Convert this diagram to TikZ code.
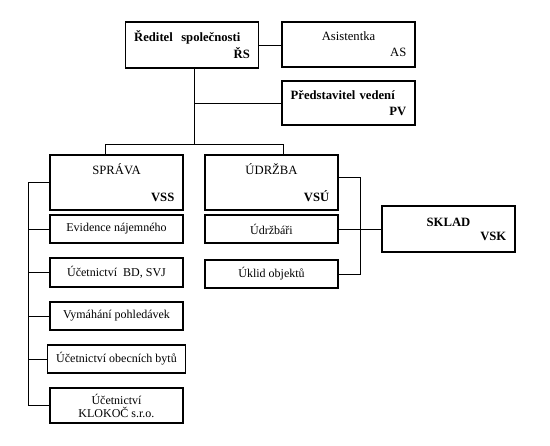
\documentclass[tikz,border=0pt]{standalone}
\usepackage{fontspec}
\setmainfont{Liberation Serif}
\usetikzlibrary{calc}
\tikzset{
  box/.style={draw, line width=0.95pt, minimum width=99.75pt, inner xsep=6.5pt, inner ysep=0pt,
    font=\fontsize{9}{11}\selectfont, align=center},
  hbox/.style={box, text width=86.75pt, font=\fontsize{9.5}{11}\selectfont},
  conn/.style={line width=0.75pt},
}
\begin{document}
\begin{tikzpicture}[x=0.75pt,y=-0.75pt]
\useasboundingbox[fill=white] (0,0) rectangle (550,446);
% top level
\node[hbox, align=left, minimum height=34.5pt] (RS) at (192,45)
  {\textbf{Ředitel\ \ společnosti}\\[1.75pt]\hspace*{\fill}\textbf{ŘS}};
\node[hbox, minimum height=33.75pt] (AS) at (348.5,44.5)
  {Asistentka\\[1.25pt]\hspace*{\fill}AS};
\node[hbox, align=left, minimum height=33pt] (PV) at (348.5,103)
  {\textbf{Představitel vedení}\\[1pt]\hspace*{\fill}\textbf{PV}};
% departments
\node[hbox, minimum height=41.25pt] (SPR) at (116.5,182.5)
  {SPRÁVA\\[9.25pt]\hspace*{\fill}\textbf{VSS}};
\node[hbox, minimum height=41.25pt] (UDR) at (271.5,182.5)
  {ÚDRŽBA\\[9.25pt]\hspace*{\fill}\textbf{VSÚ}};
\node[hbox, minimum height=34.5pt] (SKL) at (448.5,229)
  {\textbf{SKLAD}\\[-0.5pt]\hspace*{\fill}\textbf{VSK}};
% sub units
\node[box, minimum height=21pt] (EVI) at (116.5,229) {Evidence nájemného};
\node[box, minimum height=21.75pt] (UBD) at (116.5,272.5) {Účetnictví\ \ BD, SVJ};
\node[box, minimum height=21pt] (VYM) at (116.5,316) {Vymáhání pohledávek};
\node[box, minimum height=21pt] (UOB) at (116.5,359) {Účetnictví obecních bytů};
\node[box, minimum height=26.25pt] (KLO) at (116.5,405.5) {Účetnictví\\[-1.25pt]KLOKOČ s.r.o.};
\node[box, minimum height=21pt] (UDRZ) at (271.5,229) {Údržbáři};
\node[box, minimum height=21pt] (UKL) at (271.5,274) {Úklid objektů};
% connectors
\coordinate (t1) at (194,144);
\coordinate (bl) at (105,144);
\coordinate (br) at (283,144);
\coordinate (rail) at (28,182);
\coordinate (rr) at (360,177);
\draw[conn] (RS.east) -- (AS.west |- RS.east);
\draw[conn] (t1 |- RS.south) -- (t1);
\draw[conn] (t1 |- PV.west) -- (PV.west);
\draw[conn] (bl |- SPR.north) -- (bl) -- (br) -- (br |- UDR.north);
\draw[conn] (SPR.west) -- (rail |- SPR.west) -- (rail |- KLO.west) -- (KLO.west);
\foreach \n in {EVI,UBD,VYM,UOB} \draw[conn] (rail |- \n.west) -- (\n.west);
\draw[conn] (rr -| UDR.east) -- (rr) -- (rr |- UKL.east) -- (UKL.east);
\draw[conn] (UDRZ.east) -- (SKL.west);
\end{tikzpicture}
\end{document}
